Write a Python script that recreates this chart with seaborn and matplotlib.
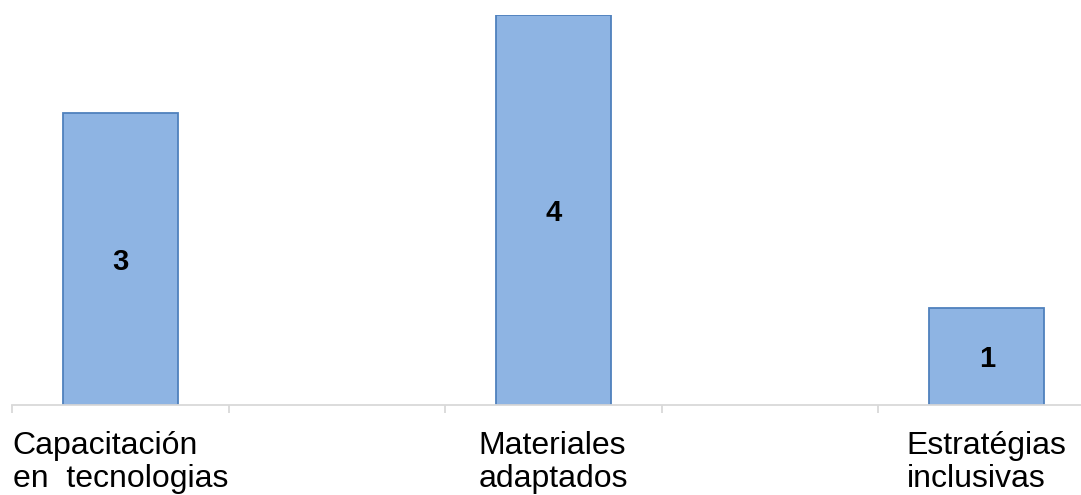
import matplotlib
matplotlib.use("Agg")
import matplotlib.pyplot as plt
import seaborn as sns
import pandas as pd
import numpy as np

categories = ["Capacitación\nen  tecnologias", "Materiales\nadaptados", "Estratégias\ninclusivas"]
values = [3, 4, 1]
slots = ["Capacitación\nen  tecnologias", "_gap1", "Materiales\nadaptados", "_gap2", "Estratégias\ninclusivas"]
slot_labels = ["Capacitación\nen  tecnologias", "", "Materiales\nadaptados", "", "Estratégias\ninclusivas"]

sns.set_theme(style="white")
plt.rcParams['font.family'] = ['Liberation Sans', 'DejaVu Sans']

df = pd.DataFrame({"cat": categories, "val": values})

fig = plt.figure(figsize=(10.81, 4.95), dpi=100)
ax = fig.add_axes([12/1081, 90/495, 1083/1081, 390/495])

sns.barplot(data=df, x="cat", y="val", order=slots, color="#8EB4E3",
            edgecolor="#4F81BD", linewidth=1.3, width=0.53, ax=ax, saturation=1)

for c in ax.containers:
    txts = ax.bar_label(c, labels=[f"{v:g}" for v in c.datavalues], label_type="center",
                        fontsize=21, fontweight="bold", color="black")
    for t in txts:
        t.set_va("center_baseline")

ax.set_ylim(0, 4)
ax.set_xlim(-0.5, 4.5)
ax.set_xlabel("")
ax.set_ylabel("")
ax.set_yticks([])
for s in ["top", "right", "left"]:
    ax.spines[s].set_visible(False)
ax.spines["bottom"].set_color("#D9D9D9")
ax.spines["bottom"].set_linewidth(1.3)

ax.set_xticks(np.arange(-0.5, 5.0, 1.0))
ax.set_xticklabels([])
ax.tick_params(axis="x", which="major", direction="out", length=6, width=1.3,
               color="#D9D9D9", bottom=True)
ax.set_xticks(np.arange(0, 5), minor=True)
ax.set_xticklabels(slot_labels, minor=True)
ax.tick_params(axis="x", which="minor", length=0, pad=19, labelsize=23, labelcolor="black")
for lbl in ax.get_xticklabels(minor=True):
    lbl.set_multialignment("left")
    lbl.set_linespacing(1.12)

fig.savefig("out.png", dpi=100)
